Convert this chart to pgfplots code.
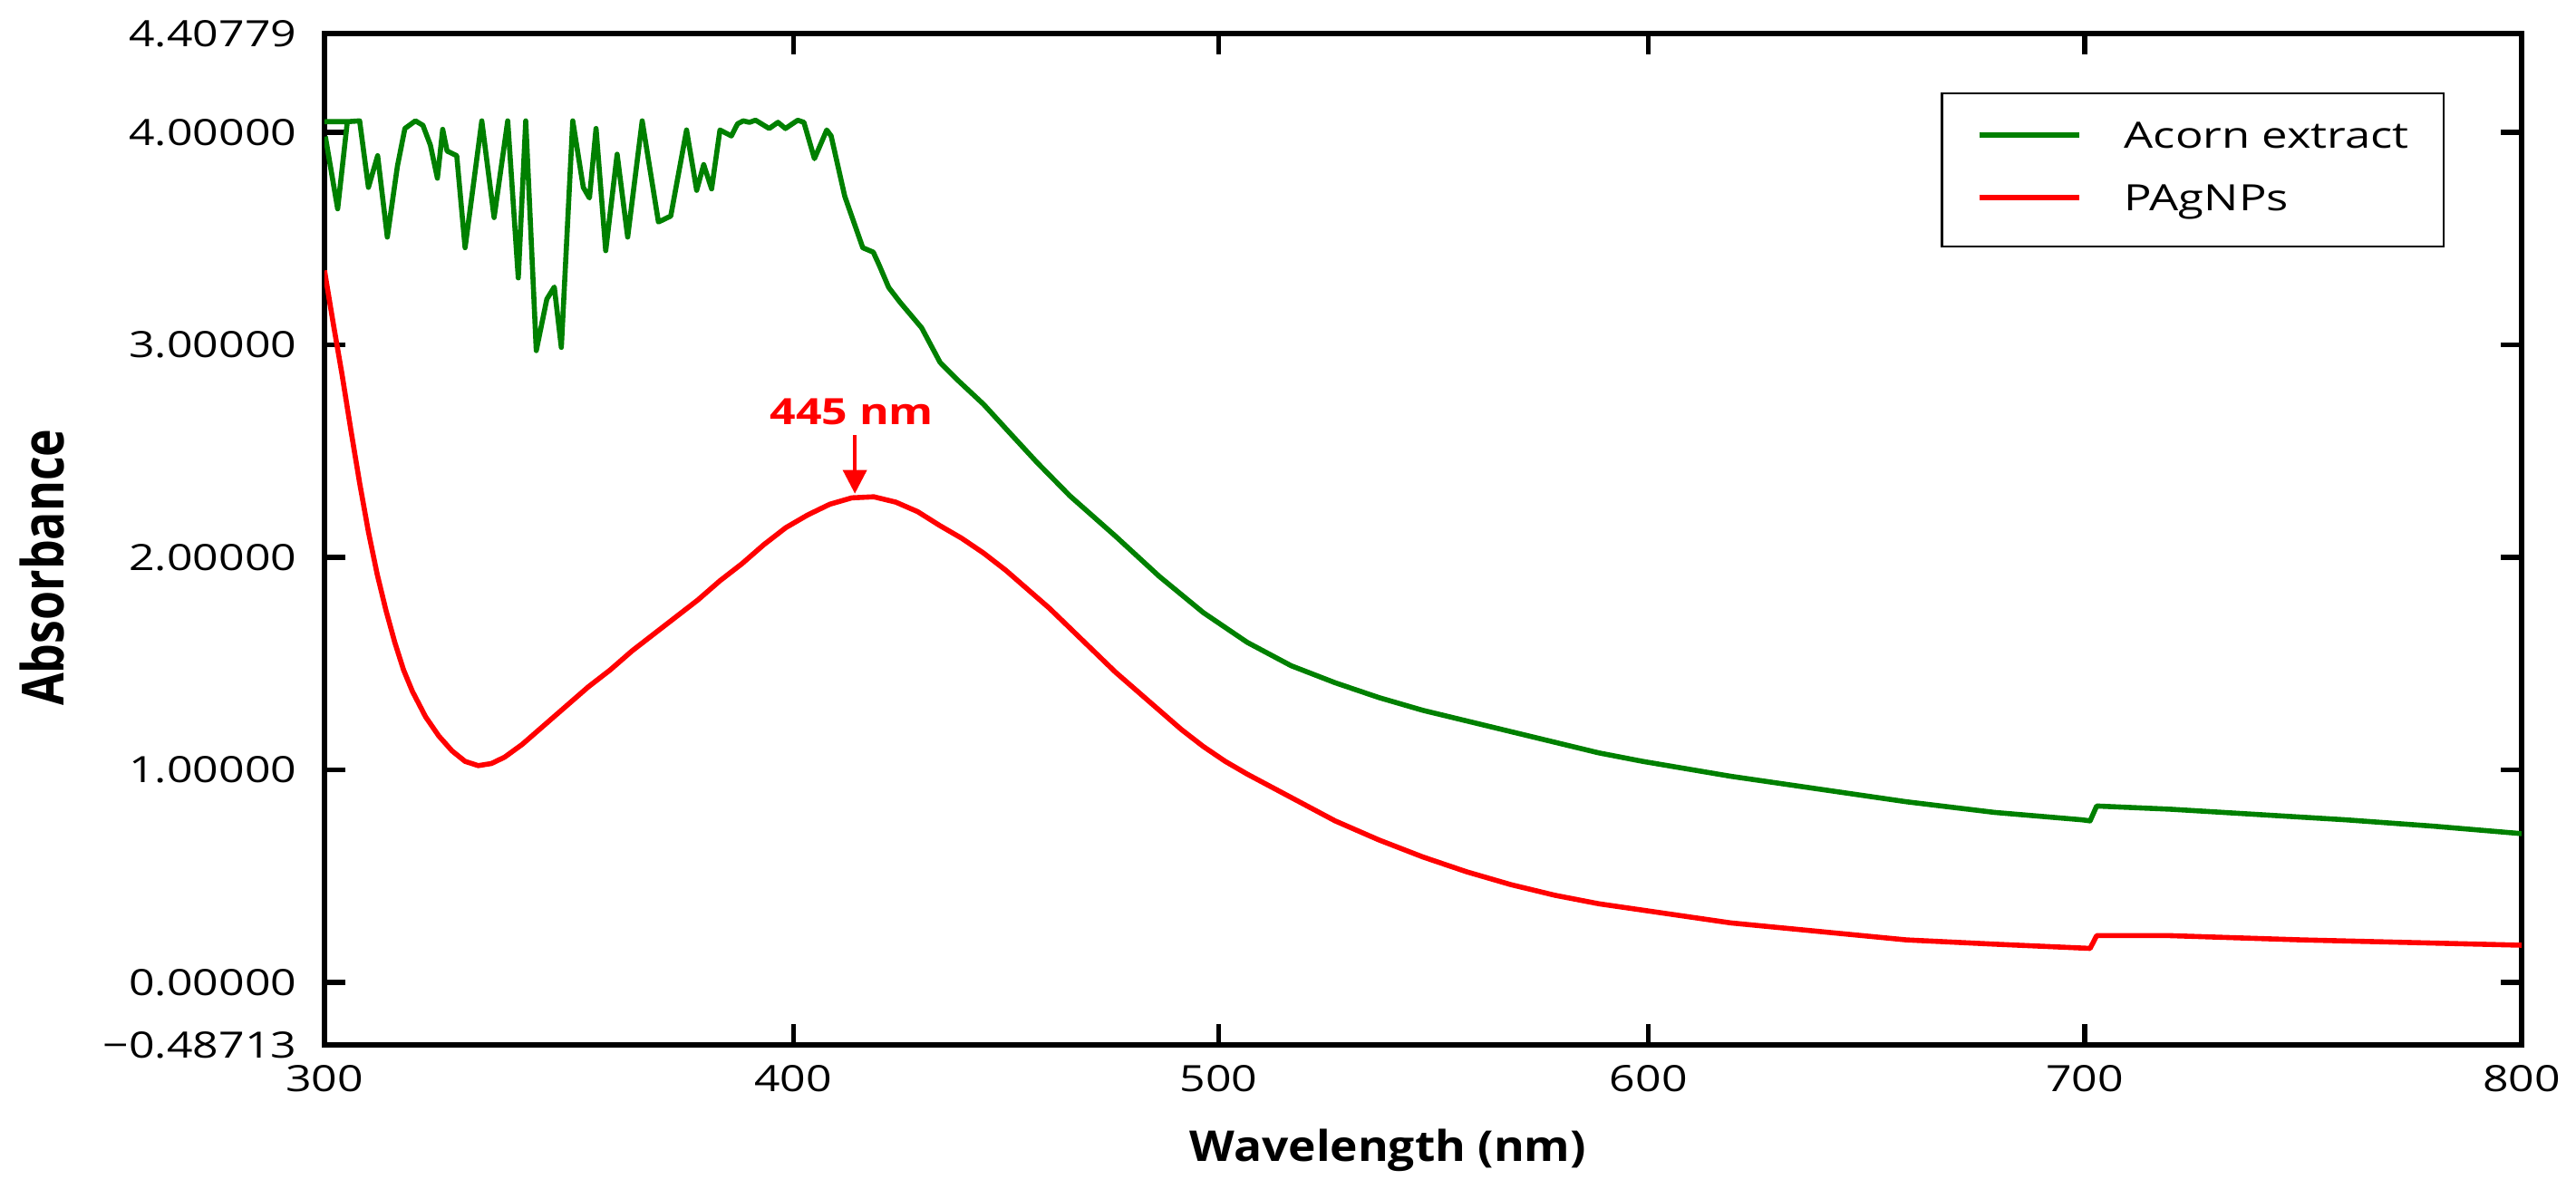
\documentclass[border=0pt]{standalone}
\usepackage{fontspec}
\setmainfont{Open Sans}
\newfontfamily\tickfont{Open Sans}[FakeStretch=1.25]
\newfontfamily\legfont{Open Sans}[FakeStretch=1.27]
\newfontfamily\labfont{Open Sans}[FakeStretch=1.1]
\newfontfamily\ylabfont{Open Sans}[FakeStretch=0.81]
\newfontfamily\annfont{Open Sans}[FakeStretch=1.25]
\usepackage{pgfplots}
\pgfplotsset{compat=1.18}
\usetikzlibrary{arrows.meta}
\definecolor{acorn}{RGB}{0,128,0}
\begin{document}
\begin{tikzpicture}
\path[use as bounding box] (-89.5pt,-39.75pt) rectangle (621pt,288.25pt);
\begin{axis}[
  scale only axis, width=606pt, height=279pt,
  xmin=300, xmax=800, ymin=-0.294, ymax=4.465,
  xtick={300,406.7,503.5,601.3,700.6,800},
  xticklabels={300,400,500,600,700,800},
  ytick={-0.294,0,1,2,3,4,4.465},
  yticklabels={−0.48713,0.00000,1.00000,2.00000,3.00000,4.00000,4.40779},
  axis line style={line width=1.4pt},
  major tick length=5.75pt,
  every tick/.style={black, line width=1.3pt},
  tick align=inside,
  ticklabel style={font=\tickfont\fontsize{10}{12}\selectfont, inner sep=0pt},
  yticklabel style={anchor=east, xshift=-7.5pt},
  xticklabel style={anchor=north, yshift=-5.5pt},
  xlabel={Wavelength (nm)},
  ylabel={Absorbance},
  xlabel style={at={(axis description cs:0.484,0)}, anchor=base, yshift=-32.25pt,
    font=\labfont\bfseries\fontsize{11.7}{14}\selectfont},
  ylabel style={at={(axis description cs:-0.1188,0.472)}, anchor=base,
    font=\ylabfont\bfseries\fontsize{16}{18}\selectfont},
  legend style={at={(0.965,0.9418)}, anchor=north east, draw=black, line width=0.6pt,
    inner xsep=9.5pt, inner ysep=7.5pt,
    font=\legfont\fontsize{10}{12}\selectfont,
    nodes={inner sep=0pt, text height=7.5pt, text depth=2.5pt},
    row sep=7.25pt, column sep=11.75pt, cells={anchor=west}},
  legend image code/.code={\draw[#1, line width=1.5pt] (0pt,1pt) -- (27.5pt,1pt);},
]
\addplot[color=acorn, line width=1.4pt, line join=round] coordinates {
(300.2,3.98) (303.0,3.64) (305.2,4.05) (300.2,4.05) (305.2,4.05)
(308.0,4.054) (310.0,3.741) (312.1,3.890) (314.3,3.507) (316.6,3.841)
(318.3,4.018) (320.7,4.054) (322.4,4.033) (324.1,3.940) (325.7,3.784)
(326.9,4.014) (327.9,3.912) (330.1,3.890) (332.0,3.457) (335.8,4.054)
(338.6,3.599) (341.7,4.054) (344.1,3.315) (345.8,4.054) (348.2,2.973)
(350.6,3.215) (352.3,3.272) (353.9,2.988) (356.5,4.054) (358.9,3.741)
(360.3,3.691) (361.8,4.018) (364.0,3.443) (366.6,3.897) (369.0,3.507)
(372.3,4.054) (376.0,3.578) (378.8,3.606) (382.4,4.011) (384.7,3.727)
(386.3,3.848) (388.1,3.734) (390.0,4.011) (392.6,3.983) (394.0,4.040)
(395.3,4.054) (396.7,4.047) (398.1,4.057) (401.2,4.018) (403.2,4.047)
(404.9,4.018) (407.7,4.057) (409.1,4.047) (411.5,3.876) (414.3,4.011)
(415.3,3.983) (418.4,3.699) (422.5,3.457) (424.9,3.436) (426.3,3.372)
(428.4,3.27) (431.0,3.20) (435.9,3.08) (440.1,2.917) (444.2,2.832)
(450,2.72) (455.8,2.589) (462,2.45) (469.6,2.29) (480,2.10) (490,1.91)
(500,1.74) (510,1.60) (520,1.49) (530,1.41) (540,1.34) (550,1.28)
(560,1.23) (570,1.18) (580,1.13) (590,1.08) (600,1.04) (620,0.97)
(640,0.91) (660,0.85) (680,0.80) (700,0.765) (701.8,0.76) (703.3,0.83)
(720,0.815) (740,0.79) (760,0.765) (780,0.735) (800,0.70)
};
\addlegendentry{Acorn extract}
\addplot[color=red, line width=1.4pt, line join=round] coordinates {
(300,3.35) (302,3.10) (304,2.86) (306,2.60) (308,2.35) (310,2.12)
(312,1.92) (314,1.75) (316,1.60) (318,1.47) (320,1.37) (323,1.25)
(326,1.16) (329,1.09) (332,1.04) (335,1.02) (338,1.03) (341,1.06)
(345,1.12) (350,1.21) (355,1.30) (360,1.39) (365,1.47) (370,1.56)
(375,1.64) (380,1.72) (385,1.80) (390,1.89) (395,1.97) (400,2.06)
(405,2.14) (410,2.20) (415,2.25) (420,2.28) (425,2.285) (430,2.26)
(435,2.215) (440,2.15) (445,2.09) (450,2.02) (455,1.94) (460,1.85)
(465,1.76) (470,1.66) (475,1.56) (480,1.46) (485,1.37) (490,1.28)
(495,1.19) (500,1.11) (505,1.04) (510,0.98) (520,0.87) (530,0.76)
(540,0.67) (550,0.59) (560,0.52) (570,0.46) (580,0.41) (590,0.37)
(600,0.34) (620,0.28) (640,0.24) (660,0.20) (680,0.18) (701.8,0.16)
(703.3,0.22) (720,0.22) (750,0.20) (780,0.185) (800,0.175)
};
\addlegendentry{PAgNPs}
\node[text=red, font=\annfont\bfseries\fontsize{10}{12}\selectfont] at (axis cs:420,2.687) {445 nm};
\draw[red, line width=0.9pt, -{Triangle[length=6.5pt,width=6.5pt]}] (axis cs:420.7,2.575) -- (axis cs:420.7,2.30);
\end{axis}
\end{tikzpicture}
\end{document}
